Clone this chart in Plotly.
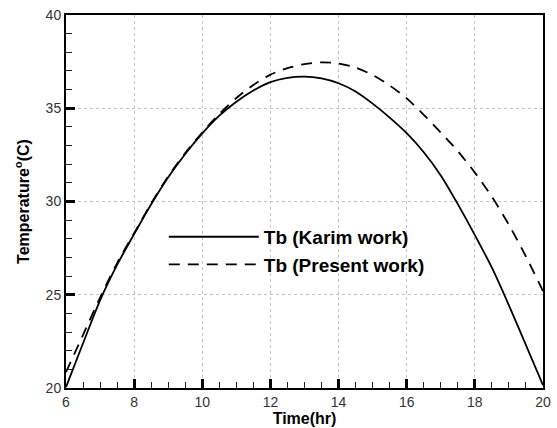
import plotly.graph_objects as go

time_hr = [6, 6.5, 7, 7.5, 8, 8.5, 9, 9.5, 10, 10.5, 11, 11.5, 12, 12.5, 13,
           13.5, 14, 14.5, 15, 15.5, 16, 16.5, 17, 17.5, 18, 18.5, 19, 19.5, 20]
tb_karim = [20.05, 22.4, 24.7, 26.6, 28.25, 29.85, 31.3, 32.55, 33.65, 34.6, 35.35, 35.95,
            36.4, 36.63, 36.7, 36.6, 36.34, 35.9, 35.25, 34.5, 33.66, 32.64, 31.4, 29.86,
            28.2, 26.45, 24.43, 22.3, 20.15]
tb_present = [20.85, 22.85, 24.85, 26.7, 28.3, 29.9, 31.35, 32.6, 33.7, 34.7, 35.55, 36.25,
              36.8, 37.15, 37.37, 37.46, 37.4, 37.18, 36.78, 36.22, 35.53, 34.65, 33.7, 32.7,
              31.55, 30.25, 28.75, 27.05, 25.2]

x_ticks = [6, 8, 10, 12, 14, 16, 18, 20]
y_ticks = [20, 25, 30, 35, 40]
x_minor_step = 0.5
y_minor_step = 1

FONT = "Liberation Sans"

fig = go.Figure()
fig.add_trace(go.Scatter(x=time_hr, y=tb_karim, mode="lines", name="Tb (Karim work)",
                         legendgroup="a",
                         line=dict(color="black", width=1.8, shape="spline", smoothing=0.8)))
fig.add_trace(go.Scatter(x=time_hr, y=tb_present, mode="lines", name="Tb (Present work)",
                         legendgroup="b",
                         line=dict(color="black", width=1.8, dash="11px,8px", shape="spline", smoothing=0.8)))

axis_common = dict(
    showline=True, linecolor="black", linewidth=2, mirror=True,
    ticks="inside", ticklen=9, tickwidth=2.5, tickcolor="black",
    showgrid=True, gridcolor="#c4c4c4", gridwidth=1, griddash="dot",
    zeroline=False, layer="above traces",
    tickfont=dict(family=FONT, size=14, color="#333333"),
)

fig.update_xaxes(range=[x_ticks[0], x_ticks[-1]], tickmode="linear",
                 tick0=x_ticks[0], dtick=x_ticks[1] - x_ticks[0],
                 minor=dict(tickmode="linear", tick0=x_ticks[0], dtick=x_minor_step, ticks="inside", ticklen=6,
                            tickcolor="#222222", tickwidth=1.3, showgrid=False),
                 title=dict(text="<b>Time(hr)</b>", font=dict(family=FONT, size=16, color="black"), standoff=0),
                 **axis_common)
fig.update_yaxes(range=[y_ticks[0], y_ticks[-1]], tickmode="linear",
                 tick0=y_ticks[0], dtick=y_ticks[1] - y_ticks[0],
                 minor=dict(tickmode="linear", tick0=y_ticks[0], dtick=y_minor_step, ticks="inside", ticklen=6,
                            tickcolor="#222222", tickwidth=1.3, showgrid=False),
                 title=dict(text="<b>Temperature<sup>o</sup>(C)</b>", font=dict(family=FONT, size=16, color="black"), standoff=12),
                 **axis_common)

fig.update_layout(
    width=557, height=428,
    margin=dict(l=66, r=6, t=15, b=40),
    plot_bgcolor="white", paper_bgcolor="white",
    showlegend=True,
    legend=dict(x=0.205, y=0.456, xanchor="left", yanchor="top",
                bgcolor="rgba(255,255,255,0)", borderwidth=0,
                itemwidth=90, tracegroupgap=0,
                font=dict(family=FONT, size=19, color="black", weight="bold")),
)

fig.write_html("out.html")
